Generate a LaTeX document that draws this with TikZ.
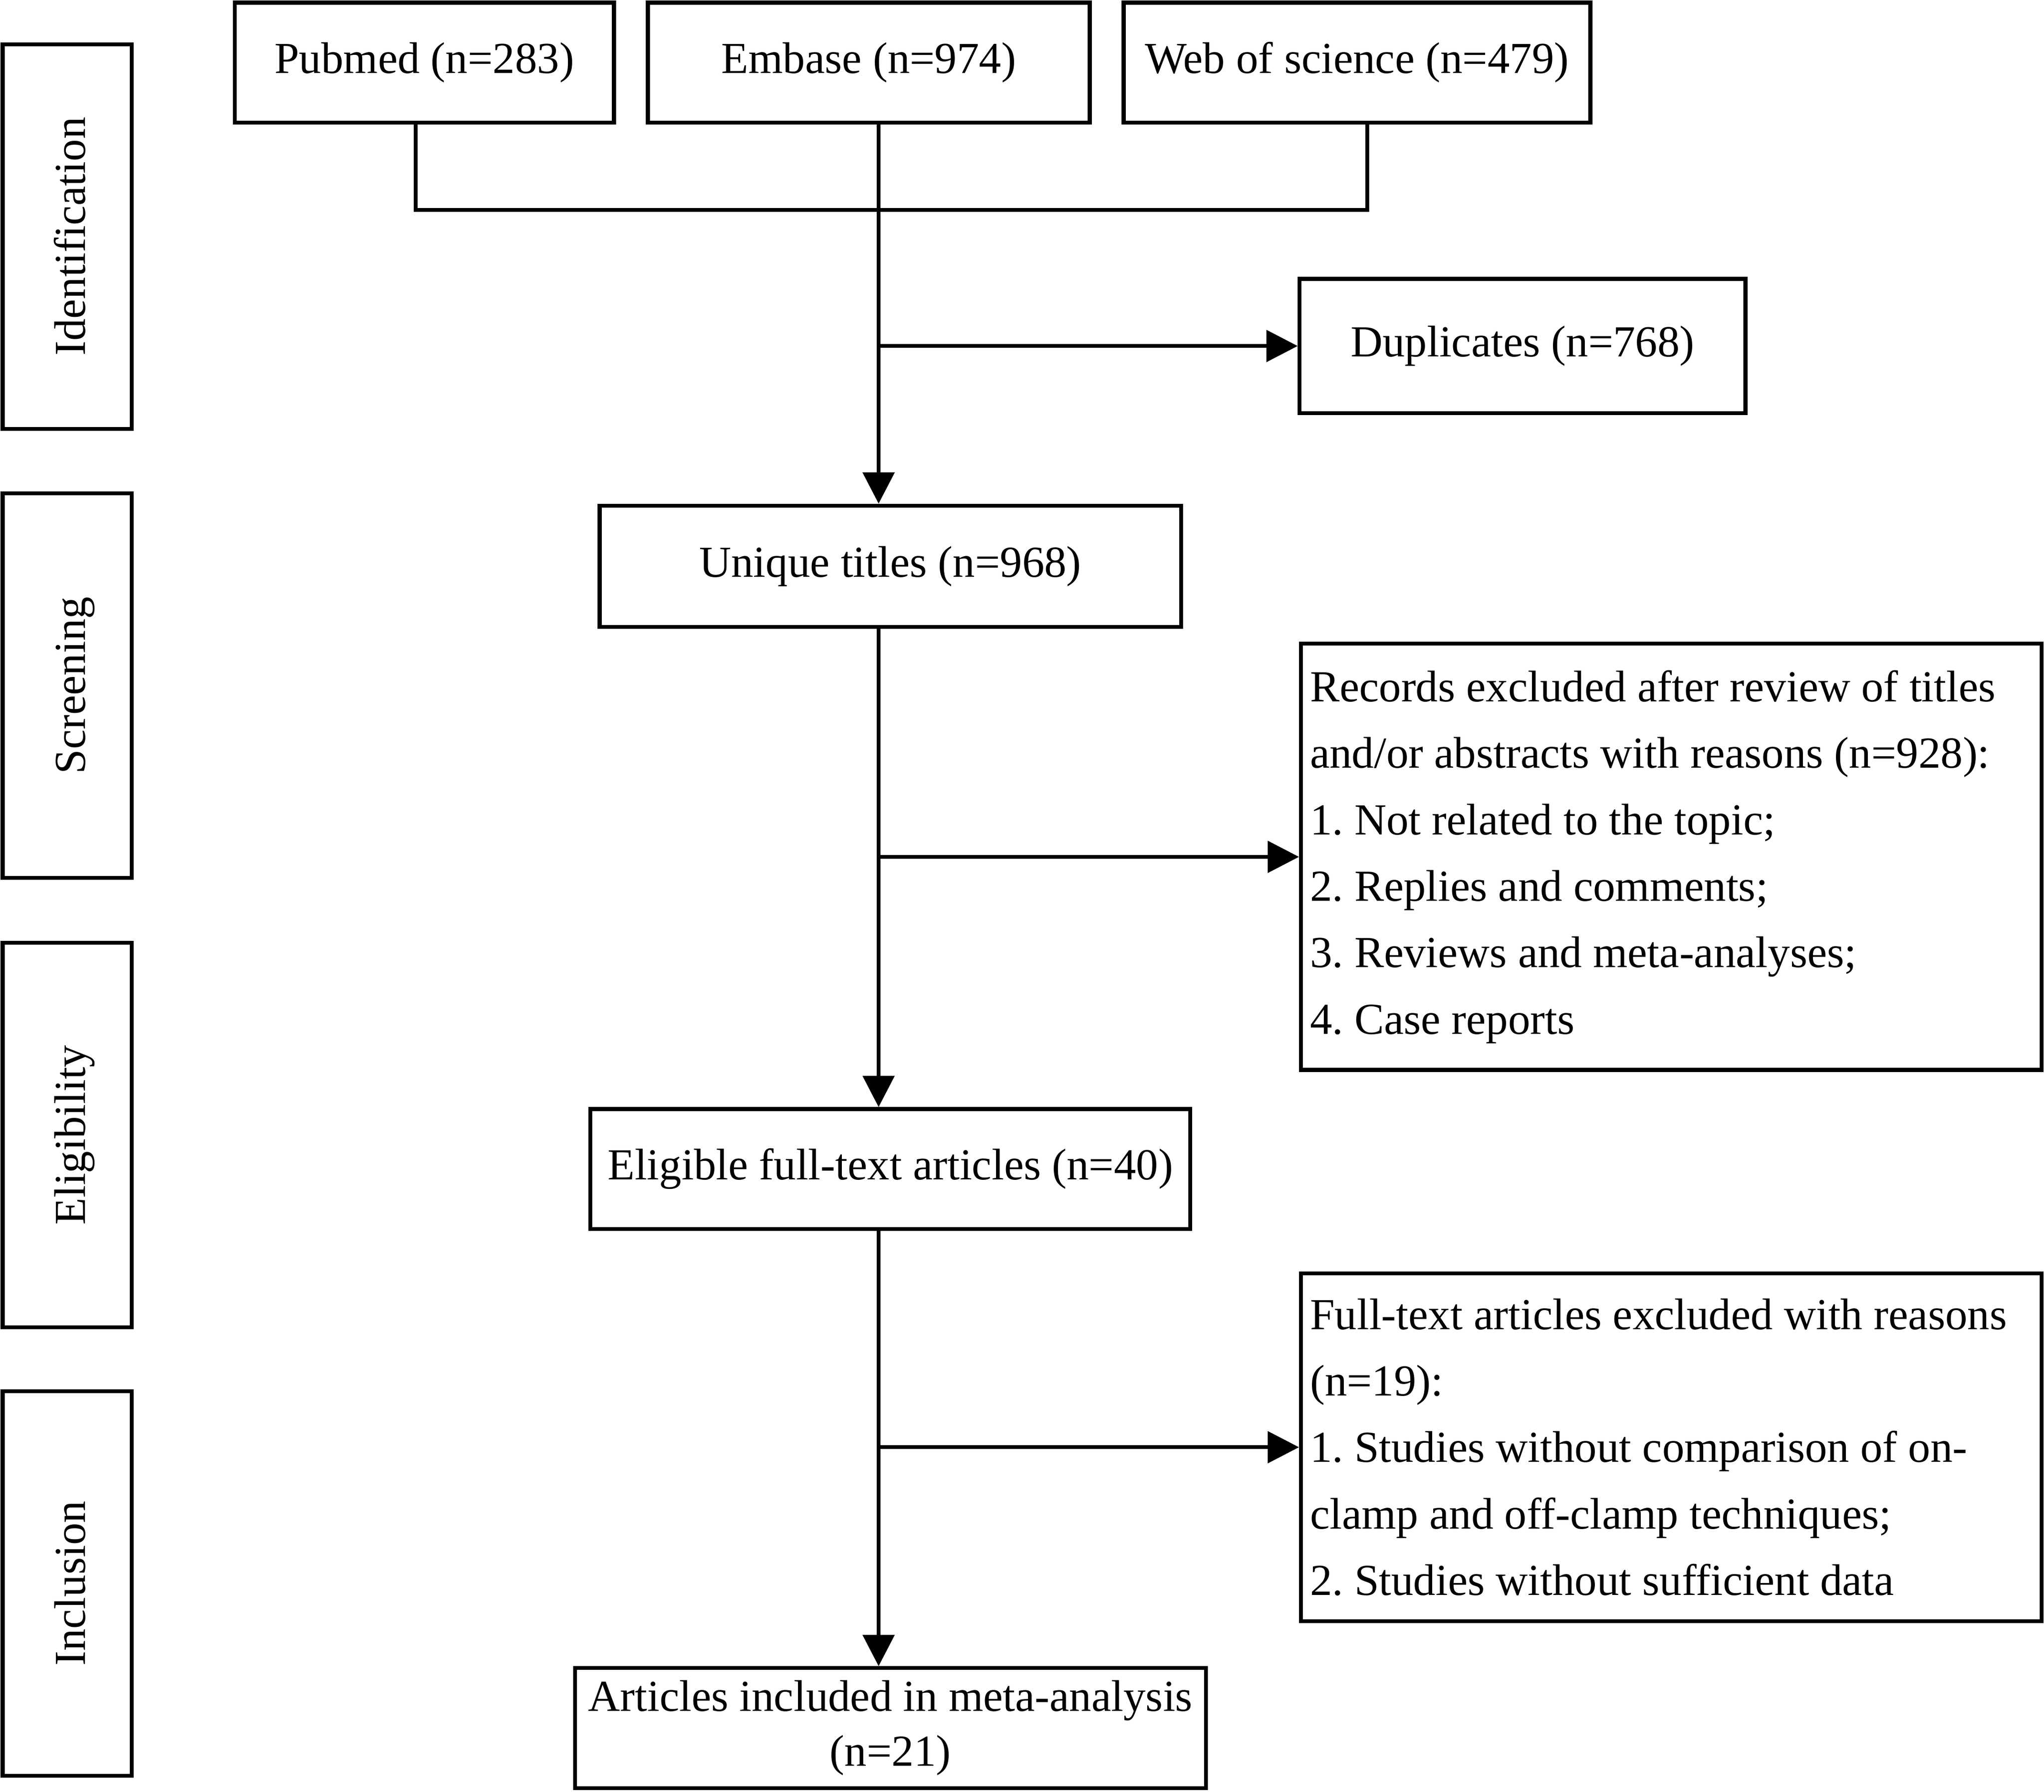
\documentclass[tikz,border=0pt]{standalone}
\usepackage{fontspec}
\setmainfont{Liberation Serif}
\usetikzlibrary{arrows.meta}

\tikzset{
    box/.style={draw, line width=3pt, inner sep=7pt, font=\fontsize{34}{51}\selectfont\frenchspacing},
    stage/.style={box, rotate=90, minimum width=295pt, minimum height=99pt, text height=28pt, text depth=0pt},
    reason/.style={box, text width=554pt, align=flush left},
    line/.style={line width=3pt},
    arrow/.style={line width=3pt, -{Triangle[length=24pt, width=24pt]}}
}

\begin{document}
\begin{tikzpicture}[x=1pt, y=-1pt]
        \useasboundingbox (0, 0) rectangle (1568, 1375);

        % Stages on the left
        \node[stage] (ident) at (51.5, 181.5) {Identification};
        \node[stage] (screen) at (51.5, 526) {Screening};
        \node[stage] (elig) at (51.5, 871) {Eligibility};
        \node[stage] (incl) at (51.5, 1215) {Inclusion};

        % Databases
        \node[box, minimum width=291pt, minimum height=92pt] (pub) at (325.5, 48) {Pubmed (n=283)};
        \node[box, minimum width=339pt, minimum height=92pt] (emb) at (666.5, 48) {Embase (n=974)};
        \node[box, minimum width=358pt, minimum height=92pt] (wos) at (1041, 48) {Web of science (n=479)};

        % Main boxes
        \node[box, minimum width=342pt, minimum height=103pt] (dup) at (1168, 265.5) {Duplicates (n=768)};
        \node[box, minimum width=446pt, minimum height=93pt] (uniq) at (683, 434.5) {Unique titles (n=968)};
        \node[reason, minimum height=327pt] (rec) at (1282, 657.5) {Records excluded after review of titles\\
            and/or abstracts with reasons (n=928):\\
            1. Not related to the topic;\\
            2. Replies and comments;\\
            3. Reviews and meta-analyses;\\
            4. Case reports};
        \node[box, minimum width=460pt, minimum height=92pt] (full) at (683, 897) {Eligible full-text articles (n=40)};
        \node[reason, minimum height=267pt] (excl) at (1282, 1110.5) {Full-text articles excluded with reasons\\
            (n=19):\\
            1. Studies without comparison of on-\\
            clamp and off-clamp techniques;\\
            2. Studies without sufficient data};
        \node[box, minimum width=484pt, minimum height=92pt, align=center,
            font=\fontsize{34}{42}\selectfont] (meta) at (683, 1326) {Articles included in meta-analysis\\(n=21)};

        % Joining the databases
        \coordinate (spine) at ([xshift=7.5pt]emb.south);
        \coordinate (join) at (674, 161);
        \draw[line] ([xshift=-6.5pt]pub.south) |- (join) -| ([xshift=8pt]wos.south);

        % Flow down the middle
        \draw[arrow] (spine) -- (spine |- uniq.north);
        \draw[arrow] (spine |- uniq.south) -- (spine |- full.north);
        \draw[arrow] (spine |- full.south) -- (spine |- meta.north);

        % Exclusions to the right
        \draw[arrow] (spine |- dup.west) -- (dup.west);
        \draw[arrow] (spine |- rec.west) -- (rec.west);
        \draw[arrow] (spine |- excl.west) -- (excl.west);
    \end{tikzpicture}
\end{document}
